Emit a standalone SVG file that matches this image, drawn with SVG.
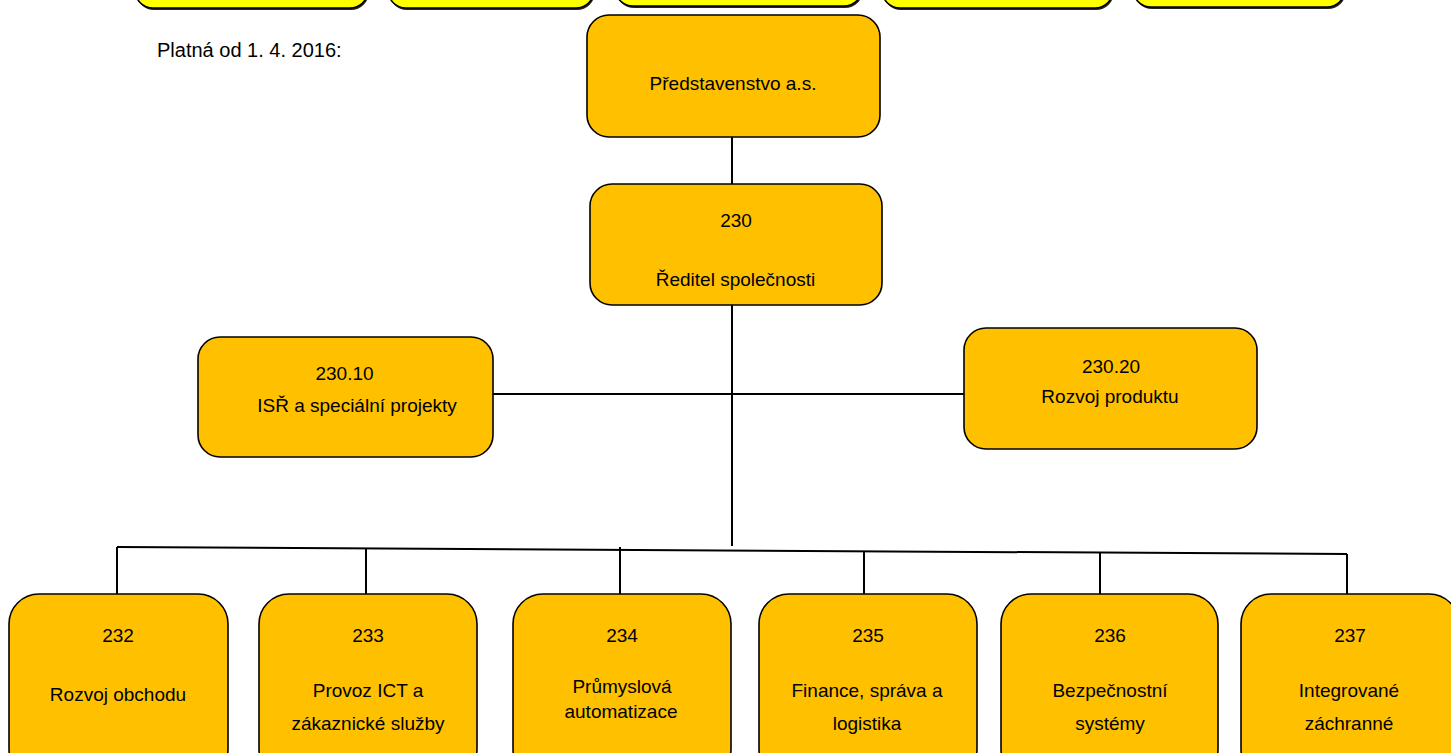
<svg xmlns="http://www.w3.org/2000/svg" width="1451" height="753" viewBox="0 0 1451 753">
<style>
.top{fill:#FFFF00;stroke:#000;stroke-width:1.5}
.sh{fill:#222}
.box{fill:#FFC000;stroke:#000;stroke-width:1.6}
.t{font-family:"Liberation Sans",Arial,sans-serif;font-size:19px;fill:#000;text-anchor:middle}
.lbl{font-family:"Liberation Sans",Arial,sans-serif;font-size:20px;fill:#000}
.c{stroke:#000;stroke-width:2;fill:none}
</style>
<rect width="1451" height="753" fill="#fff"/>
<g id="top-boxes">
<rect class="sh" x="136" y="-100" width="233" height="110" rx="18"/>
<rect class="top" x="135" y="-100" width="233" height="108" rx="18"/>
<rect class="sh" x="389" y="-100" width="206" height="110" rx="18"/>
<rect class="top" x="388" y="-100" width="206" height="108" rx="18"/>
<rect class="sh" x="616" y="-100" width="247" height="108" rx="18"/>
<rect class="top" x="615" y="-100" width="247" height="106" rx="18"/>
<rect class="sh" x="883" y="-100" width="231" height="110" rx="18"/>
<rect class="top" x="882" y="-100" width="231" height="108" rx="18"/>
<rect class="sh" x="1134" y="-100" width="212" height="109" rx="18"/>
<rect class="top" x="1133" y="-100" width="212" height="107" rx="18"/>
</g>
<text class="lbl" x="157" y="57">Platná od 1. 4. 2016:</text>
<g id="connectors">
<line class="c" x1="732" y1="137" x2="732" y2="184"/>
<line class="c" x1="732" y1="305" x2="732" y2="546"/>
<line class="c" x1="493" y1="394" x2="964" y2="394"/>
<line class="c" x1="117" y1="547" x2="1347" y2="554"/>
<line class="c" x1="117" y1="547" x2="117" y2="594"/>
<line class="c" x1="366" y1="548.4" x2="366" y2="594"/>
<line class="c" x1="620" y1="547" x2="620" y2="594"/>
<line class="c" x1="864" y1="551" x2="864" y2="594"/>
<line class="c" x1="1100" y1="552.5" x2="1100" y2="594"/>
<line class="c" x1="1347" y1="554" x2="1347" y2="594"/>
</g>
<g id="n-predstavenstvo">
<rect class="box" x="587" y="15" width="293" height="122" rx="22"/>
<text class="t" x="733" y="90">Představenstvo a.s.</text>
</g>
<g id="n-230">
<rect class="box" x="590" y="184" width="292" height="121" rx="22"/>
<text class="t" x="736" y="227">230</text>
<text class="t" x="735.5" y="286">Ředitel společnosti</text>
</g>
<g id="n-230-10">
<rect class="box" x="198" y="337" width="295" height="120" rx="22"/>
<text class="t" x="344.5" y="380">230.10</text>
<text class="t" x="357" y="412">ISŘ a speciální projekty</text>
</g>
<g id="n-230-20">
<rect class="box" x="964" y="328" width="293" height="121" rx="22"/>
<text class="t" x="1111" y="373">230.20</text>
<text class="t" x="1110" y="403">Rozvoj produktu</text>
</g>
<g id="n-232">
<rect class="box" x="9" y="594" width="219" height="185" rx="30"/>
<text class="t" x="118" y="642">232</text>
<text class="t" x="118" y="701">Rozvoj obchodu</text>
</g>
<g id="n-233">
<rect class="box" x="259" y="594" width="218" height="185" rx="30"/>
<text class="t" x="368" y="642">233</text>
<text class="t" x="368" y="697">Provoz ICT a</text>
<text class="t" x="368" y="730">zákaznické služby</text>
</g>
<g id="n-234">
<rect class="box" x="513" y="594" width="218" height="185" rx="30"/>
<text class="t" x="622" y="642">234</text>
<text class="t" x="622" y="693">Průmyslová</text>
<text class="t" x="621" y="718">automatizace</text>
</g>
<g id="n-235">
<rect class="box" x="759" y="594" width="218" height="185" rx="30"/>
<text class="t" x="868" y="642">235</text>
<text class="t" x="867" y="697">Finance, správa a</text>
<text class="t" x="867" y="730">logistika</text>
</g>
<g id="n-236">
<rect class="box" x="1001" y="594" width="217" height="185" rx="30"/>
<text class="t" x="1110" y="642">236</text>
<text class="t" x="1110" y="697">Bezpečnostní</text>
<text class="t" x="1110" y="730">systémy</text>
</g>
<g id="n-237">
<rect class="box" x="1241" y="594" width="218" height="185" rx="30"/>
<text class="t" x="1350" y="642">237</text>
<text class="t" x="1349" y="697">Integrované</text>
<text class="t" x="1349" y="730">záchranné</text>
</g>
</svg>
